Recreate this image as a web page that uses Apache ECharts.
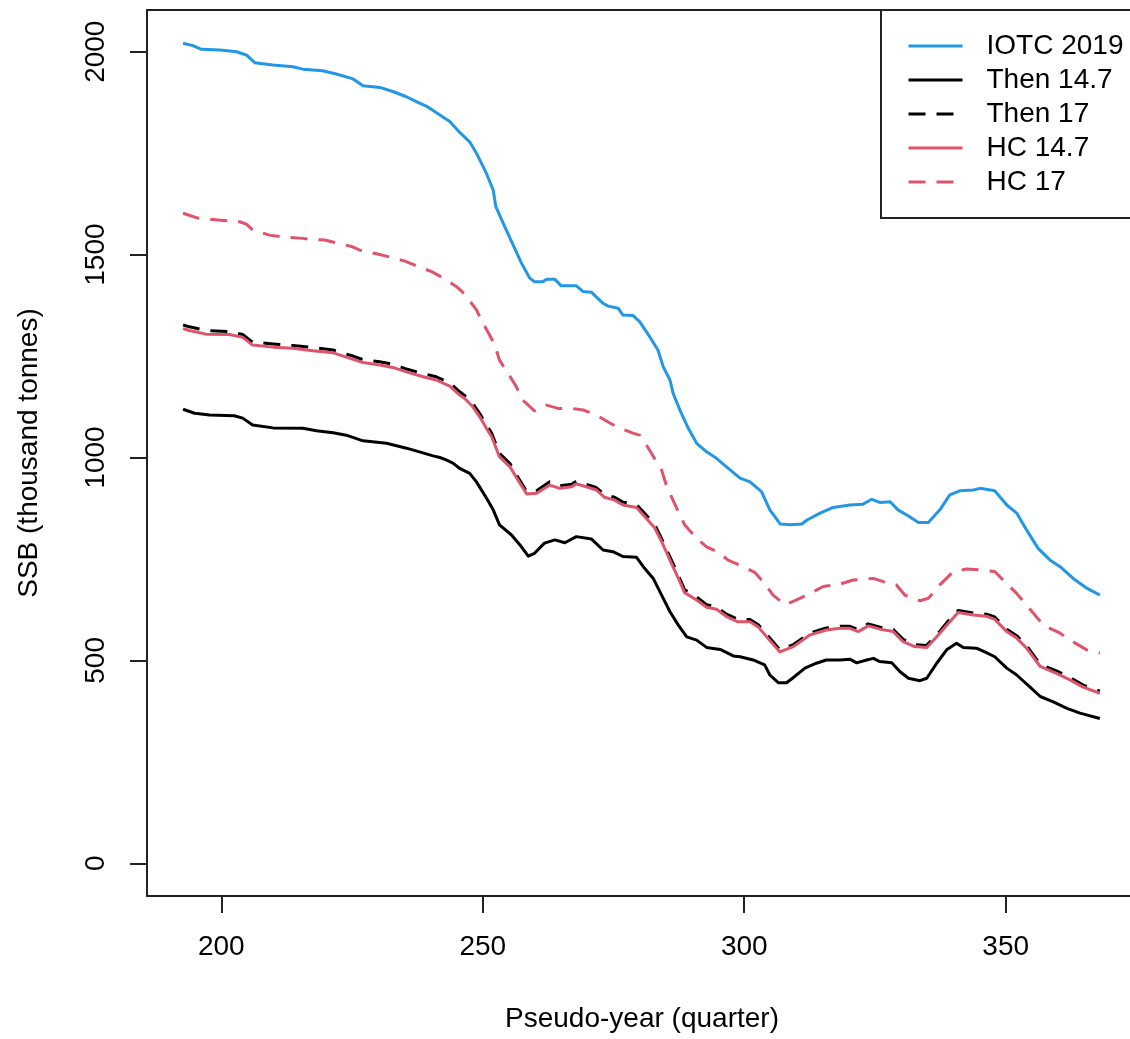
<!DOCTYPE html>
<html>
<head>
<meta charset="utf-8">
<title>SSB projections</title>
<script src="https://cdn.jsdelivr.net/npm/echarts@6/dist/echarts.min.js"></script>
<style>
  html, body { margin: 0; padding: 0; background: #ffffff; overflow: hidden; width: 1130px; }
  /* the plot frame runs a little past the right edge of the window */
  #wrap { width: 1130px; height: 1039px; overflow: hidden; position: relative; }
  #chart { width: 1150px; height: 1039px; position: absolute; left: 0; top: 0; }
</style>
</head>
<body>
<div id="wrap"><div id="chart"></div></div>
<script>
// Spawning stock biomass (thousand tonnes) by pseudo-year quarter, [quarter, SSB]
const iotc2019 = [
  [192.7,2021],[194.6,2015],[196.2,2006],[199.7,2004],[201.6,2002],[202.9,2000],[204.8,1992],
  [206.4,1973],[209.9,1967],[213.7,1963],[215.6,1957],[219.4,1953],[222.0,1945],[225.2,1933],
  [227.1,1916],[230.3,1912],[232.8,1902],[235.4,1889],[237.3,1877],[239.2,1866],[241.8,1844],
  [243.7,1828],[245.3,1805],[247.5,1778],[248.8,1750],[250.7,1700],[252.0,1659],[252.5,1618],
  [254.2,1569],[255.8,1524],[257.4,1479],[259.0,1442],[259.9,1433],[261.5,1433],[262.2,1439],
  [263.8,1439],[265.0,1423],[267.9,1423],[269.2,1409],[270.8,1407],[273.0,1380],[274.0,1373],
  [275.9,1368],[276.8,1351],[278.7,1350],[280.0,1335],[281.9,1298],[283.5,1265],[284.5,1224],
  [285.8,1191],[286.4,1158],[287.7,1117],[289.3,1072],[290.9,1035],[292.8,1014],[294.7,998],
  [296.6,977],[299.2,949],[301.1,940],[303.3,916],[304.9,871],[306.9,836],[308.8,834],
  [311.0,836],[312.0,846],[314.5,863],[317.0,877],[320.2,883],[322.7,885],[324.4,897],
  [326.0,889],[327.9,891],[329.4,871],[331.4,856],[333.3,840],[335.2,840],[337.4,871],
  [339.3,908],[341.2,918],[343.8,920],[345.1,924],[347.9,918],[350.2,883],[352.1,863],
  [354.0,821],[356.2,776],[358.5,747],[360.4,731],[362.9,702],[365.5,678],[368.0,661]
];

const then147 = [
  [192.7,1119],[194.9,1109],[197.8,1105],[202.5,1103],[204.1,1097],[206.0,1080],[209.9,1073],
  [215.6,1072],[218.2,1066],[221.4,1061],[223.9,1055],[227.1,1041],[231.6,1035],[235.4,1023],
  [237.9,1014],[240.5,1004],[241.8,1000],[243.0,994],[244.3,986],[245.6,973],[247.5,961],
  [248.8,940],[250.7,900],[252.0,871],[253.2,834],[255.5,809],[257.4,780],[258.7,757],
  [259.9,764],[261.8,789],[263.8,797],[265.7,790],[267.9,805],[270.8,799],[273.0,772],
  [274.9,768],[276.8,756],[279.4,754],[280.7,731],[282.6,702],[284.2,661],[285.8,620],
  [287.4,587],[289.0,558],[290.9,550],[292.8,532],[295.4,527],[297.9,511],[299.2,509],
  [301.7,501],[303.9,489],[304.9,464],[306.5,445],[308.1,445],[309.4,458],[311.6,481],
  [313.8,493],[315.7,501],[318.3,501],[320.2,503],[321.5,494],[323.4,501],[324.7,505],
  [325.9,497],[328.2,494],[329.8,472],[331.4,456],[333.6,450],[334.9,456],[336.8,493],
  [338.7,526],[340.6,542],[341.9,532],[344.4,530],[346.3,519],[347.9,509],[350.2,481],
  [352.1,464],[354.6,435],[356.6,411],[359.1,398],[361.7,382],[364.2,370],[368.0,357]
];

const then17 = [
  [192.7,1327],[193.9,1322],[197.1,1313],[201.6,1310],[204.1,1303],[206.0,1284],[209.9,1280],
  [213.7,1276],[217.5,1271],[221.4,1265],[222.6,1260],[225.2,1250],[227.1,1241],[230.3,1236],
  [232.8,1230],[235.4,1218],[238.6,1207],[241.1,1199],[243.7,1184],[245.6,1162],[246.5,1153],
  [248.1,1133],[249.4,1109],[250.7,1080],[251.7,1060],[253.2,1010],[255.2,985],[256.7,952],
  [258.4,916],[260.3,918],[262.8,940],[264.7,930],[267.0,934],[267.9,942],[269.8,934],
  [271.7,926],[273.3,909],[275.2,902],[276.8,890],[279.4,884],[281.0,862],[282.9,834],
  [284.2,800],[285.8,755],[287.4,710],[288.6,674],[290.9,656],[292.8,637],[294.7,632],
  [296.6,614],[298.8,601],[301.1,601],[302.7,588],[304.3,564],[306.8,526],[309.4,539],
  [312.6,568],[315.7,580],[318.3,584],[320.2,584],[321.8,576],[323.7,590],[326.0,582],
  [328.5,576],[330.4,552],[332.6,539],[334.9,537],[337.4,572],[339.0,597],[340.9,623],
  [343.8,617],[346.3,614],[347.9,607],[350.2,577],[352.1,561],[354.0,536],[356.6,490],
  [359.7,474],[362.3,458],[364.8,439],[368.0,424]
];

const hc147 = [
  [192.7,1318],[193.9,1313],[197.1,1304],[201.6,1303],[204.1,1296],[206.0,1277],[209.9,1272],
  [213.7,1269],[217.5,1263],[221.4,1258],[222.6,1253],[225.2,1242],[227.1,1234],[230.3,1228],
  [232.8,1222],[235.4,1211],[238.6,1199],[241.1,1191],[243.7,1176],[245.6,1154],[246.5,1146],
  [248.1,1125],[249.4,1101],[250.7,1072],[251.7,1051],[253.2,1002],[255.2,977],[256.7,945],
  [258.4,910],[260.3,912],[262.8,932],[264.7,924],[267.0,928],[267.9,935],[269.8,928],
  [271.7,920],[273.3,902],[275.2,895],[276.8,883],[279.4,877],[281.0,854],[282.9,826],
  [284.2,793],[285.8,747],[287.4,702],[288.6,667],[290.9,649],[292.8,631],[294.7,626],
  [296.6,608],[298.8,595],[301.1,595],[302.7,582],[304.3,558],[306.8,521],[309.4,534],
  [312.6,563],[315.7,575],[318.3,579],[320.2,579],[321.8,571],[323.7,585],[326.0,577],
  [328.5,571],[330.4,546],[332.6,534],[334.9,532],[337.4,567],[339.0,591],[340.9,618],
  [343.8,612],[346.3,609],[347.9,601],[350.2,571],[352.1,555],[354.0,530],[356.6,485],
  [359.7,468],[362.3,452],[364.8,434],[368.0,419]
];

const hc17 = [
  [192.7,1602],[195.5,1590],[199.4,1585],[203.5,1581],[204.8,1575],[206.0,1561],[209.2,1548],
  [211.5,1544],[215.6,1540],[216.9,1538],[219.8,1536],[221.7,1530],[224.9,1520],[226.5,1511],
  [229.7,1502],[231.9,1495],[235.1,1484],[237.0,1474],[240.2,1458],[241.8,1447],[245.0,1421],
  [246.5,1403],[248.8,1364],[249.7,1339],[251.3,1302],[252.3,1277],[253.2,1240],[254.8,1208],
  [256.4,1175],[257.6,1142],[259.9,1115],[262.2,1129],[264.4,1121],[267.0,1121],[269.2,1117],
  [271.7,1105],[274.3,1085],[276.2,1073],[278.7,1060],[280.0,1055],[281.3,1031],[283.2,990],
  [284.2,969],[285.1,932],[286.1,903],[287.4,866],[288.6,834],[290.9,801],[292.8,780],
  [295.4,764],[296.9,747],[299.8,731],[302.0,717],[303.9,690],[305.5,661],[307.8,637],
  [310.0,649],[312.6,665],[315.1,682],[318.3,688],[320.8,698],[324.7,702],[326.6,694],
  [329.1,686],[330.7,661],[333.6,647],[335.2,653],[337.4,686],[340.0,719],[342.5,725],
  [345.1,723],[347.9,719],[349.5,698],[352.1,665],[355.3,616],[357.2,587],[360.4,567],
  [362.3,550],[365.5,526],[368.0,518]
];

const seriesNames = ['IOTC 2019', 'Then 14.7', 'Then 17', 'HC 14.7', 'HC 17'];
const xTicks = [200, 250, 300, 350];
const yTicks = [0, 500, 1000, 1500, 2000];

const FONT = '"Liberation Sans", Arial, sans-serif';
const BLUE = '#2297E6';
const RED = '#DF536B';
const BLACK = '#000000';
const FRAME = '#222222';
const DASH = [17, 11];
const X_RANGE = [185.8, 375.1];
const Y_RANGE = [-80.6, 2102.8];

function lineSeries(name, data, color, dashed) {
  return {
    name: name,
    type: 'line',
    data: data,
    symbol: 'none',
    showSymbol: false,
    clip: true,
    lineStyle: { color: color, width: 3, type: dashed ? DASH : 'solid', cap: 'butt', join: 'round' },
    itemStyle: { color: color },
    emphasis: { disabled: true }
  };
}

// bare axis used only to close the plot frame along the top
function frameAxis(position, range) {
  return {
    type: 'value',
    position: position,
    min: range[0],
    max: range[1],
    axisLine: { show: true, onZero: false, lineStyle: { color: FRAME, width: 2 } },
    axisTick: { show: false },
    axisLabel: { show: false },
    splitLine: { show: false }
  };
}

const labelStyle = { fontFamily: FONT, fontSize: 28, lineHeight: 28, color: '#000000' };

const chart = echarts.init(document.getElementById('chart'), null, { renderer: 'canvas' });

chart.setOption({
  animation: false,
  backgroundColor: '#ffffff',
  textStyle: { fontFamily: FONT },
  grid: {
    show: false,
    left: 147,
    top: 10,
    width: 990,
    height: 886,
    containLabel: false
  },
  legend: {
    orient: 'vertical',
    left: 881,
    top: 10,
    padding: [22, 40, 22, 26],
    itemWidth: 54,
    itemHeight: 28,
    itemGap: 6,
    borderColor: FRAME,
    borderWidth: 2,
    backgroundColor: '#ffffff',
    selectedMode: false,
    data: seriesNames,
    itemStyle: { opacity: 0 },
    lineStyle: { width: 3 },
    textStyle: Object.assign({}, labelStyle, { padding: [0, 0, 0, 19] })
  },
  xAxis: [{
    type: 'value',
    position: 'bottom',
    min: X_RANGE[0],
    max: X_RANGE[1],
    name: 'Pseudo-year (quarter)',
    nameLocation: 'middle',
    nameGap: 109,
    nameTextStyle: labelStyle,
    axisLine: { show: true, onZero: false, lineStyle: { color: FRAME, width: 2 } },
    splitLine: { show: false },
    axisTick: {
      show: true,
      inside: false,
      length: 17,
      customValues: xTicks,
      lineStyle: { color: FRAME, width: 2 }
    },
    axisLabel: Object.assign({
      show: true,
      customValues: xTicks,
      margin: 37,
      formatter: function (v) { return String(v); }
    }, labelStyle)
  }, frameAxis('top', X_RANGE)],
  yAxis: {
    type: 'value',
    position: 'left',
    min: Y_RANGE[0],
    max: Y_RANGE[1],
    name: 'SSB (thousand tonnes)',
    nameLocation: 'middle',
    nameGap: 104,
    nameTextStyle: labelStyle,
    axisLine: { show: true, onZero: false, lineStyle: { color: FRAME, width: 2 } },
    splitLine: { show: false },
    axisTick: {
      show: true,
      inside: false,
      length: 17,
      customValues: yTicks,
      lineStyle: { color: FRAME, width: 2 }
    },
    axisLabel: Object.assign({
      show: true,
      customValues: yTicks,
      rotate: 90,
      margin: 37,
      formatter: function (v) { return String(v); }
    }, labelStyle)
  },
  series: [
    lineSeries(seriesNames[0], iotc2019, BLUE, false),
    lineSeries(seriesNames[1], then147, BLACK, false),
    lineSeries(seriesNames[2], then17, BLACK, true),
    lineSeries(seriesNames[3], hc147, RED, false),
    lineSeries(seriesNames[4], hc17, RED, true)
  ]
});
</script>
</body>
</html>
